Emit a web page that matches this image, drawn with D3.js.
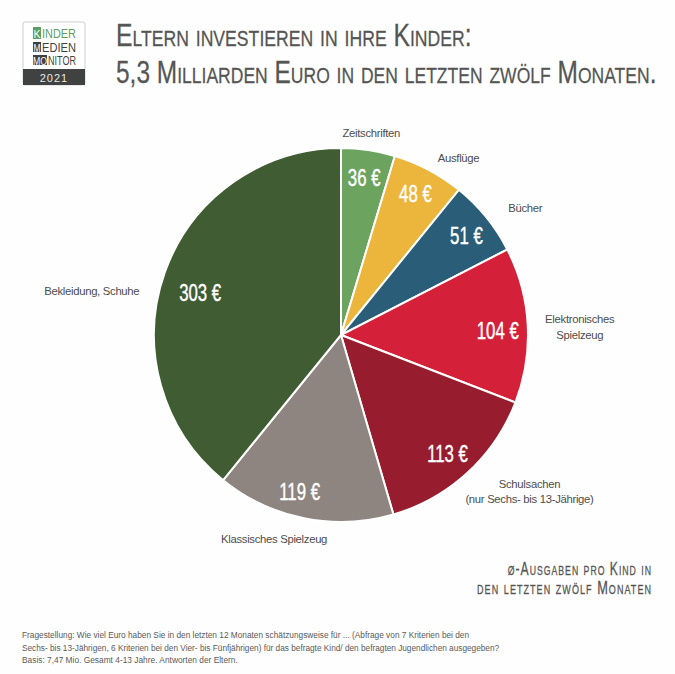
<!DOCTYPE html>
<html>
<head>
<meta charset="utf-8">
<script src="https://cdnjs.cloudflare.com/ajax/libs/d3/7.8.5/d3.min.js"></script>
<style>
html, body { margin: 0; padding: 0; background: #fff; }
svg { display: block; }
text { font-family: "Liberation Sans", Arial, sans-serif; }
</style>
</head>
<body>
<div id="chart"></div>
<script>
const categoryLines = [["Zeitschriften"], ["Ausflüge"], ["Bücher"], ["Elektronisches", "Spielzeug"], ["Schulsachen", "(nur Sechs- bis 13-Jährige)"], ["Klassisches Spielzeug"], ["Bekleidung, Schuhe"]];
const values = [36, 48, 51, 104, 113, 119, 303];
const colors = ["#6ca45f", "#ecb53c", "#2a5e78", "#d42139", "#971d2e", "#8f8580", "#3f5c33"];
const titleLines = ["Eltern investieren in ihre Kinder:", "5,3 Milliarden Euro in den letzten zwölf Monaten."];
const noteLines = ["ø-Ausgaben pro Kind in", "den letzten zwölf Monaten"];
const footLines = [
  "Fragestellung: Wie viel Euro haben Sie in den letzten 12 Monaten schätzungsweise für ... (Abfrage von 7 Kriterien bei den",
  "Sechs- bis 13-Jährigen, 6 Kriterien bei den Vier- bis Fünfjährigen) für das befragte Kind/ den befragten Jugendlichen ausgegeben?",
  "Basis: 7,47 Mio. Gesamt 4-13 Jahre. Antworten der Eltern."
];

const width = 675, height = 674;
const cx = 341, cy = 335, radius = 187;
const grey = "#555553";

const svg = d3.select("#chart").append("svg")
  .attr("width", width).attr("height", height)
  .attr("viewBox", `0 0 ${width} ${height}`);

svg.append("rect").attr("width", width).attr("height", height).attr("fill", "#fefefe");

// squeeze a line of text to a given width, there is no narrow font here
function fit(sel, x, y, w) {
  sel.each(function (d, i) {
    const t = d3.select(this);
    const sx = w(d, i) / this.getComputedTextLength();
    t.attr("transform", `translate(${x(d, i)},${y(d, i)}) scale(${sx},1)`);
  });
}

// logo
const logo = svg.append("g").attr("transform", "translate(23,22)");
logo.append("rect").attr("width", 62).attr("height", 63).attr("rx", 2)
  .attr("fill", "#fff").attr("stroke", "#cfcfcf");
logo.append("rect").attr("y", 47).attr("width", 62).attr("height", 16).attr("fill", "#3f4240");
logo.append("rect").attr("x", 10).attr("y", 5).attr("width", 8).attr("height", 12).attr("fill", "#5c9e63");
logo.append("rect").attr("x", 10).attr("y", 20).attr("width", 8).attr("height", 10).attr("fill", "#3f4240");
logo.append("rect").attr("x", 10).attr("y", 33).attr("width", 14).attr("height", 10).attr("fill", "#3f4240");
const logoRows = [["INDER", 19, 16, 34, "#5c9e63"], ["EDIEN", 19, 29.5, 34, "#3f4240"], ["NITOR", 25, 42.5, 28, "#3f4240"]];
logo.selectAll("text.row").data(logoRows).join("text")
  .attr("class", "row").attr("font-size", 12).attr("fill", d => d[4]).text(d => d[0])
  .call(fit, d => d[1], d => d[2], d => d[3]);
const logoLead = [["K", 14, 16], ["M", 14, 29.5], ["MO", 17, 42.5]];
logo.selectAll("text.lead").data(logoLead).join("text")
  .attr("class", "lead").attr("x", d => d[1]).attr("y", d => d[2])
  .attr("text-anchor", "middle").attr("font-size", 10).attr("fill", "#fff")
  .attr("textLength", d => d[0].length * 7).attr("lengthAdjust", "spacingAndGlyphs").text(d => d[0]);
logo.append("text").attr("x", 31).attr("y", 59.5)
  .attr("text-anchor", "middle").attr("font-size", 11).attr("letter-spacing", 1)
  .attr("fill", "#e8e8e8").text("2021");

// title
const titleWidths = [354, 537];
svg.selectAll("text.title").data(titleLines).join("text")
  .attr("class", "title")
  .attr("font-size", 31).attr("font-variant", "small-caps")
  .attr("fill", grey).attr("stroke", grey).attr("stroke-width", 0.25).text(d => d)
  .call(fit, () => 116, (d, i) => 46 + i * 37, (d, i) => titleWidths[i]);

// pie
const pie = d3.pie().sort(null).value(d => d)(values);
const arc = d3.arc().innerRadius(0).outerRadius(radius);
const labelArc = d3.arc().innerRadius(radius * 0.85).outerRadius(radius * 0.85);

const plot = svg.append("g").attr("transform", `translate(${cx},${cy})`);

plot.selectAll("path").data(pie).join("path")
  .attr("d", arc)
  .attr("fill", (d, i) => colors[i])
  .attr("stroke", "#fff").attr("stroke-width", 2);

// small nudges so the labels sit where they do in the picture
const valueNudge = [[0, 0], [0, -1], [2, 1], [-2, 4], [-1, 2], [-10, 1], [9, 11]];
plot.selectAll("text.value").data(pie).join("text")
  .attr("class", "value")
  .attr("text-anchor", "middle").attr("font-size", 23)
  .attr("fill", "#fff").attr("stroke", "#fff").attr("stroke-width", 0.4)
  .text(d => `${d.value} €`)
  .attr("transform", (d, i) => {
    const [x, y] = labelArc.centroid(d);
    return `translate(${x + valueNudge[i][0]},${y + valueNudge[i][1] + 8}) scale(0.73,1)`;
  });

const nameOffset = [[3, -13], [30, -8], [39, -5], [52, -2], [62, 15], [-30, 25], [-73, 23]];
const outerArc = d3.arc().innerRadius(radius).outerRadius(radius);
const names = plot.selectAll("text.name").data(pie).join("text")
  .attr("class", "name")
  .attr("transform", (d, i) => {
    const [x, y] = outerArc.centroid(d);
    return `translate(${x + nameOffset[i][0]},${y + nameOffset[i][1]})`;
  })
  .attr("text-anchor", "middle").attr("font-size", 11.3).attr("letter-spacing", -0.3)
  .attr("fill", "#4d4d4d");
names.selectAll("tspan").data((d, i) => categoryLines[i]).join("tspan")
  .attr("x", 0).attr("dy", (d, i) => i ? 15.5 : 0).text(d => d);

// note
const noteWidths = [145, 178];
svg.selectAll("text.note").data(noteLines).join("text")
  .attr("class", "note")
  .attr("text-anchor", "end").attr("font-size", 18).attr("font-variant", "small-caps")
  .attr("letter-spacing", 1.5).attr("fill", grey).attr("stroke", grey).attr("stroke-width", 0.3).text(d => d)
  .call(fit, () => 652, (d, i) => 575 + i * 19, (d, i) => noteWidths[i]);

// footnote
const footWidths = [448, 478, 216];
svg.selectAll("text.foot").data(footLines).join("text")
  .attr("class", "foot")
  .attr("font-size", 9.5).attr("fill", "#5a5a5a").text(d => d)
  .call(fit, () => 22, (d, i) => 638 + i * 12.6, (d, i) => footWidths[i]);
</script>
</body>
</html>
